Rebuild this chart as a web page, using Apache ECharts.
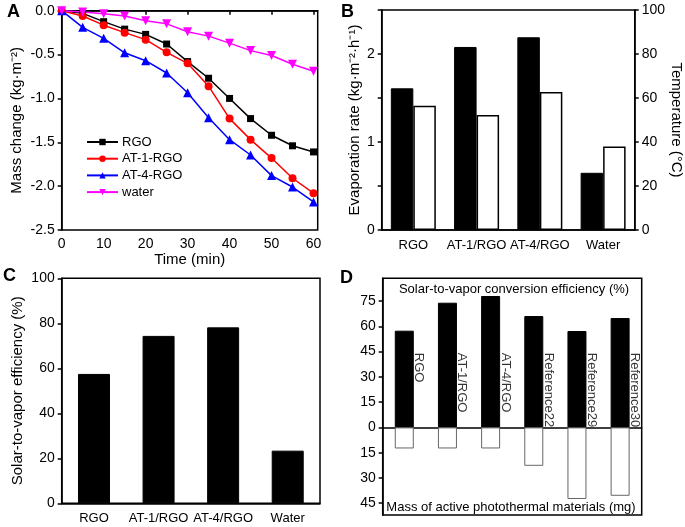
<!DOCTYPE html>
<html>
<head>
<meta charset="utf-8">
<script src="https://cdn.jsdelivr.net/npm/echarts@6.0.0/dist/echarts.min.js"></script>
<style>
html,body{margin:0;padding:0;background:#fff;}
#c{width:685px;height:527px;}
</style>
</head>
<body>
<div id="c"></div>
<script>
// ---------- Panel A data ----------
const timeA = [0, 5, 10, 15, 20, 25, 30, 35, 40, 45, 50, 55, 60];
const rgoA = [0, -0.03, -0.125, -0.21, -0.27, -0.38, -0.58, -0.77, -1.0, -1.23, -1.42, -1.54, -1.61];
const at1A = [0, -0.06, -0.165, -0.25, -0.33, -0.475, -0.60, -0.86, -1.23, -1.47, -1.68, -1.91, -2.08];
const at4A = [0, -0.19, -0.315, -0.48, -0.57, -0.71, -0.935, -1.22, -1.47, -1.645, -1.88, -2.01, -2.18];
const waterA = [0, -0.015, -0.035, -0.06, -0.115, -0.15, -0.24, -0.29, -0.37, -0.455, -0.51, -0.61, -0.69];
const seriesNamesA = ['RGO', 'AT-1-RGO', 'AT-4-RGO', 'water'];
const xTicksA = [0, 10, 20, 30, 40, 50, 60];

// ---------- Panel B data ----------
const catsB = ['RGO', 'AT-1/RGO', 'AT-4/RGO', 'Water'];
const evapRateB = [1.61, 2.08, 2.19, 0.65];
const temperatureB = [56.5, 52.3, 62.7, 38.0];

// ---------- Panel C data ----------
const catsC = ['RGO', 'AT-1/RGO', 'AT-4/RGO', 'Water'];
const efficiencyC = [57.5, 74.4, 78.2, 23.4];

// ---------- Panel D data ----------
const catsD = ['RGO', 'AT-1/RGO', 'AT-4/RGO', 'Reference22', 'Reference29', 'Reference30'];
const efficiencyD = [57.4, 74, 78, 66.1, 57.2, 64.9];
const massD = [12.5, 12.5, 12.5, 22.8, 42.5, 40.6];
const yTicksD = [-45, -30, -15, 0, 15, 30, 45, 60, 75];

const FONT = "'Liberation Sans', Arial, Helvetica, sans-serif";
const AX = {color: '#000', width: 1.5};
const tick = {show: true, length: 4, lineStyle: {color: '#000', width: 1.5}};
const lbl = (s) => Object.assign({color: '#000', fontSize: 14, fontFamily: FONT, margin: 7}, s || {});
const nameStyle = {color: '#000', fontSize: 15, fontFamily: FONT};

const chart = echarts.init(document.getElementById('c'), null, {renderer: 'canvas'});

const grids = [
  {left: 61.7, top: 10.7, width: 256, height: 219.3},
  {left: 381.7, top: 10, width: 257.6, height: 220},
  {left: 61.7, top: 278.3, width: 258.3, height: 225},
  {left: 382.7, top: 278.3, width: 259, height: 236.7}
].map(g => Object.assign({show: true, borderColor: '#000', borderWidth: 1.5, backgroundColor: 'transparent', containLabel: false}, g));

const option = {
  animation: false,
  textStyle: {fontFamily: FONT},
  grid: grids,
  legend: {
    show: true,
    data: seriesNamesA,
    orient: 'vertical',
    left: 81,
    top: 130,
    itemWidth: 31,
    itemHeight: 8,
    itemGap: 2.7,
    textStyle: {color: '#000', fontSize: 13, fontFamily: FONT, lineHeight: 14, padding: [0, 0, 0, -1]}
  },
  xAxis: [
    {gridIndex: 0, type: 'value', min: 0, max: 61,
      axisLine: {lineStyle: AX}, axisTick: Object.assign({}, tick, {customValues: xTicksA}),
      axisLabel: lbl({customValues: xTicksA}), splitLine: {show: false},
      name: 'Time (min)', nameLocation: 'middle', nameGap: 22, nameTextStyle: nameStyle},
    {gridIndex: 1, type: 'category', data: catsB,
      axisLine: {lineStyle: AX}, axisTick: {show: false},
      axisLabel: lbl({fontSize: 13, margin: 9, interval: 0, hideOverlap: false})},
    {gridIndex: 2, type: 'category', data: catsC,
      axisLine: {lineStyle: AX}, axisTick: {show: false},
      axisLabel: lbl({fontSize: 13, margin: 9, interval: 0, hideOverlap: false})},
    {gridIndex: 3, type: 'category', data: catsD,
      axisLine: {onZero: true, lineStyle: AX}, axisTick: {show: false},
      axisLabel: {show: false}}
  ],
  yAxis: [
    {gridIndex: 0, type: 'value', min: -2.5, max: 0, interval: 0.5,
      axisLine: {show: true, lineStyle: AX}, axisTick: tick,
      axisLabel: lbl({formatter: v => v.toFixed(1)}), splitLine: {show: false},
      name: 'Mass change (kg·m⁻²)', nameLocation: 'middle', nameGap: 37, nameRotate: 90, nameTextStyle: nameStyle},
    {gridIndex: 1, type: 'value', min: 0, max: 2.5, interval: 0.5,
      axisLine: {show: true, lineStyle: AX}, axisTick: tick,
      axisLabel: lbl({formatter: v => (Math.abs(v - Math.round(v)) < 1e-9 ? String(Math.round(v)) : '')}),
      splitLine: {show: false},
      name: 'Evaporation rate (kg·m⁻²·h⁻¹)', nameLocation: 'middle', nameGap: 19, nameRotate: 90, nameTextStyle: nameStyle},
    {gridIndex: 1, type: 'value', position: 'right', min: 0, max: 100, interval: 20,
      axisLine: {show: true, lineStyle: AX}, axisTick: tick,
      axisLabel: lbl(), splitLine: {show: false},
      name: 'Temperature (°C)', nameLocation: 'middle', nameGap: 30, nameRotate: -90, nameTextStyle: nameStyle},
    {gridIndex: 2, type: 'value', min: 0, max: 100, interval: 20,
      axisLine: {show: true, lineStyle: AX}, axisTick: tick,
      axisLabel: lbl(), splitLine: {show: false},
      name: 'Solar-to-vapor efficiency (%)', nameLocation: 'middle', nameGap: 36, nameRotate: 90, nameTextStyle: nameStyle},
    {gridIndex: 3, type: 'value', min: -52, max: 88.5,
      axisLine: {show: true, lineStyle: AX},
      axisTick: Object.assign({}, tick, {customValues: yTicksD}),
      axisLabel: lbl({customValues: yTicksD, formatter: v => String(Math.abs(v))}),
      splitLine: {show: false}}
  ],
  graphic: [
    {type: 'text', left: 7, top: 3, style: {text: 'A', fontSize: 18, fontWeight: 'bold', fontFamily: FONT, fill: '#000'}},
    {type: 'text', left: 341, top: 3, style: {text: 'B', fontSize: 18, fontWeight: 'bold', fontFamily: FONT, fill: '#000'}},
    {type: 'text', left: 3, top: 267, style: {text: 'C', fontSize: 18, fontWeight: 'bold', fontFamily: FONT, fill: '#000'}},
    {type: 'text', left: 340, top: 269, style: {text: 'D', fontSize: 18, fontWeight: 'bold', fontFamily: FONT, fill: '#000'}},
    {type: 'text', x: 514, y: 289, style: {text: 'Solar-to-vapor conversion efficiency (%)', fontSize: 13, fontFamily: FONT, fill: '#000', align: 'center', verticalAlign: 'middle'}},
    {type: 'text', x: 511, y: 507.5, style: {text: 'Mass of active photothermal materials (mg)', fontSize: 13, fontFamily: FONT, fill: '#000', align: 'center', verticalAlign: 'middle'}}
  ],
  series: [
    {name: 'RGO', type: 'line', xAxisIndex: 0, yAxisIndex: 0,
      data: timeA.map((t, i) => [t, rgoA[i]]), symbol: 'rect', symbolSize: 7,
      lineStyle: {color: '#000', width: 1.5}, itemStyle: {color: '#000'}},
    {name: 'AT-1-RGO', type: 'line', xAxisIndex: 0, yAxisIndex: 0,
      data: timeA.map((t, i) => [t, at1A[i]]), symbol: 'circle', symbolSize: 8,
      lineStyle: {color: '#ff0000', width: 1.5}, itemStyle: {color: '#ff0000'}},
    {name: 'AT-4-RGO', type: 'line', xAxisIndex: 0, yAxisIndex: 0,
      data: timeA.map((t, i) => [t, at4A[i]]), symbol: 'triangle', symbolSize: 9,
      lineStyle: {color: '#0000ff', width: 1.5}, itemStyle: {color: '#0000ff'}},
    {name: 'water', type: 'line', xAxisIndex: 0, yAxisIndex: 0,
      data: timeA.map((t, i) => [t, waterA[i]]), symbol: 'triangle', symbolRotate: 180, symbolSize: 9,
      lineStyle: {color: '#ff00ff', width: 1.5}, itemStyle: {color: '#ff00ff'}},

    {name: 'Evaporation rate', type: 'bar', xAxisIndex: 1, yAxisIndex: 1,
      data: evapRateB, barWidth: 22.5, barGap: '0%',
      itemStyle: {color: '#000', borderColor: '#000', borderWidth: 1}},
    {name: 'Temperature', type: 'bar', xAxisIndex: 1, yAxisIndex: 2,
      data: temperatureB, barWidth: 22.5, barGap: '0%',
      itemStyle: {color: '#fff', borderColor: '#000', borderWidth: 1.5}},

    {name: 'Efficiency C', type: 'bar', xAxisIndex: 2, yAxisIndex: 3,
      data: efficiencyC, barWidth: 32,
      itemStyle: {color: '#000', borderColor: '#000', borderWidth: 1}},

    {name: 'Efficiency D', type: 'bar', xAxisIndex: 3, yAxisIndex: 4,
      data: efficiencyD, barWidth: 19, barGap: '-100%',
      itemStyle: {color: '#000', borderColor: '#000', borderWidth: 1}},
    {name: 'Mass D', type: 'bar', xAxisIndex: 3, yAxisIndex: 4,
      data: massD.map(v => -v), barWidth: 19, barGap: '-100%',
      itemStyle: {color: '#fff', borderColor: '#666', borderWidth: 1}},
    {name: 'Labels D', type: 'scatter', xAxisIndex: 3, yAxisIndex: 4,
      data: catsD.map(() => 44), symbolSize: 1, itemStyle: {color: 'rgba(0,0,0,0)'},
      silent: true, z: 10,
      label: {show: true, formatter: p => p.name, position: [15, 0], rotate: -90,
        align: 'left', verticalAlign: 'middle', fontSize: 13, fontFamily: FONT, color: '#000'}}
  ]
};
chart.setOption(option);
</script>
</body>
</html>
